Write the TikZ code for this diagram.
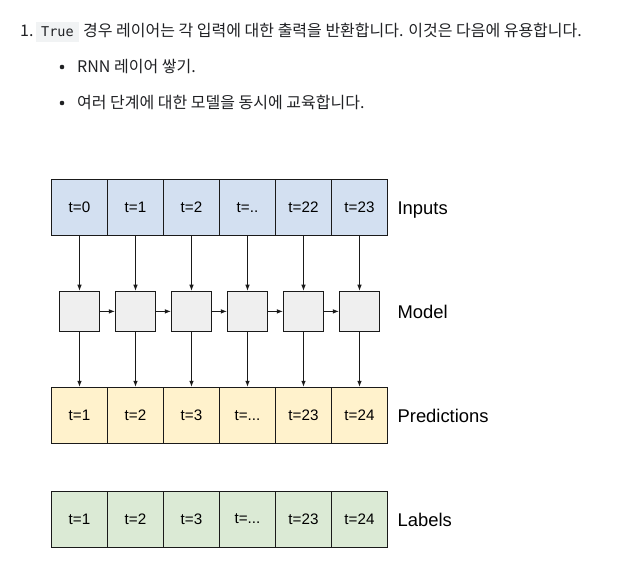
\documentclass[tikz,border=0pt]{standalone}
\usepackage{fontspec}
\setmainfont{Liberation Sans}
\newfontfamily\korfont{Noto Sans CJK KR}
\newfontfamily\codefont{DejaVu Sans Mono}
\usetikzlibrary{arrows.meta}
\definecolor{inblue}{HTML}{D3E0F1}
\definecolor{predyellow}{HTML}{FFF2CC}
\definecolor{lblgreen}{HTML}{DBEAD5}
\definecolor{modelgray}{HTML}{EFEFEF}
\definecolor{linegray}{HTML}{1A1A1A}
\definecolor{textgray}{HTML}{202124}
\definecolor{codebg}{HTML}{F1F3F4}
\newcommand\tripledot{...}

\begin{document}
\begin{tikzpicture}[x=1pt,y=-1pt,
   cell/.style={draw=linegray, line width=0.8pt, minimum width=56pt, minimum height=56pt,
                inner sep=0pt, font=\fontsize{15.2}{18}\selectfont},
   modelbox/.style={draw=linegray, line width=0.8pt, fill=modelgray, minimum size=40.5pt, inner sep=0pt},
   rowlabel/.style={anchor=base west, inner sep=0pt, font=\fontsize{18.4}{22}\selectfont},
   kortext/.style={anchor=base west, inner sep=0pt, text=textgray, font=\korfont\fontsize{16}{19}\selectfont},
   >={Latex[length=6pt,width=4.5pt]}]
   \useasboundingbox (0,0) rectangle (627,585);

   % list text above the diagram
   \node[kortext] (num) at (20,37) {1.};
   \node[fill=codebg, minimum width=43pt, minimum height=20pt, inner sep=0pt, text=textgray,
         font=\codefont\fontsize{13.5}{16}\selectfont] (code) at (57.5,32) {True};
   \node[kortext] (line1) at (83,37) {경우 레이어는 각 입력에 대한 출력을 반환합니다. 이것은 다음에 유용합니다.};
   \fill[textgray] (62,67) circle (2.3pt);
   \node[kortext] (line2) at (77,73) {RNN 레이어 쌓기.};
   \fill[textgray] (62,103) circle (2.3pt);
   \node[kortext] (line3) at (77,109) {여러 단계에 대한 모델을 동시에 교육합니다.};

   % rows of time steps
   \foreach \lbl [count=\i from 0] in {t=0,t=1,t=2,t=..,t=22,t=23}
     \node[cell, fill=inblue] (in\i) at (79.5+56*\i,207.3) {\lbl};
   \foreach \i in {0,...,5}
     \node[modelbox] (m\i) at (79.5+56*\i,311.4) {};
   \foreach \lbl [count=\i from 0] in {t=1,t=2,t=3,t=\tripledot,t=23,t=24}
     \node[cell, fill=predyellow] (pr\i) at (79.5+56*\i,415.2) {\lbl};
   \foreach \lbl [count=\i from 0] in {t=1,t=2,t=3,t=\tripledot,t=23,t=24}
     \node[cell, fill=lblgreen] (lb\i) at (79.5+56*\i,519) {\lbl};

   % connections
   \foreach \i in {0,...,5} {
     \draw[->, linegray, line width=0.7pt] (in\i) -- (m\i);
     \draw[->, linegray, line width=0.7pt] (m\i) -- (pr\i);
   }
   \foreach \i [evaluate=\i as \j using int(\i+1)] in {0,...,4}
     \draw[->, linegray, line width=0.7pt] (m\i) -- (m\j);

   % row names
   \node[rowlabel] (inname) at ([xshift=9.5pt,yshift=-7.5pt]in5.east) {Inputs};
   \node[rowlabel] (mname) at ([xshift=9.5pt,yshift=-7.5pt]pr5.east |- m5.east) {Model};
   \node[rowlabel] (prname) at ([xshift=9.5pt,yshift=-7.5pt]pr5.east) {Predictions};
   \node[rowlabel] (lbname) at ([xshift=9.5pt,yshift=-7.5pt]lb5.east) {Labels};
\end{tikzpicture}
\end{document}
